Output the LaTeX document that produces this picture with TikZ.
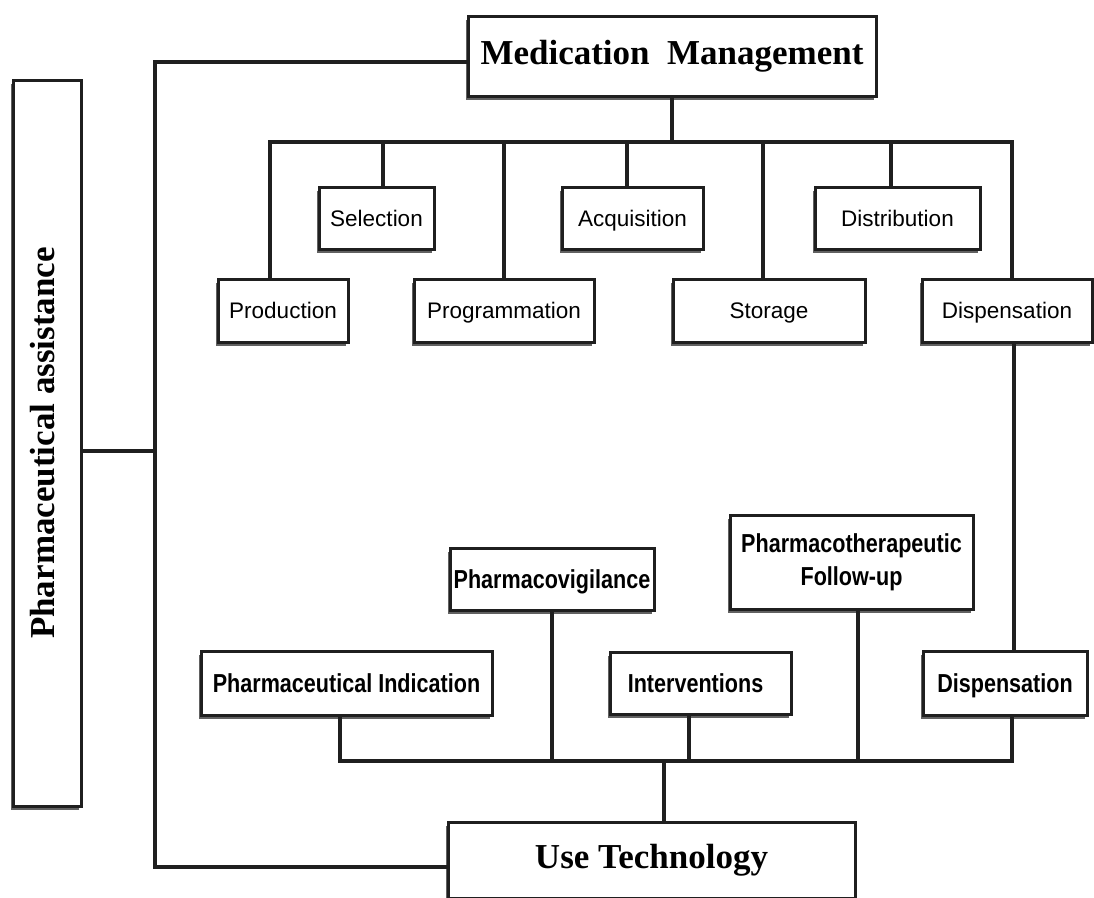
\documentclass[tikz,border=0pt]{standalone}
\usepackage{fontspec}
\setmainfont{Liberation Serif}
\newfontfamily\sansf{Liberation Sans}
\usetikzlibrary{shadows}
\newcommand{\nb}[1]{\scalebox{0.83}[1]{#1}}
\tikzset{
  box/.style={draw=black!88, line width=3pt, fill=white, inner sep=0pt,
    drop shadow={shadow xshift=-2.2pt, shadow yshift=-3.8pt, fill=black!62, opacity=1}},
  serifbox/.style={box, font=\bfseries\fontsize{35}{40}\selectfont},
  upbox/.style={box, font=\sansf\fontsize{22.5}{27}\selectfont, text height=16.1pt, text depth=0pt},
  lowbox/.style={box, font=\sansf\bfseries\fontsize{26}{33}\selectfont, align=center},
  lowone/.style={lowbox, text height=18.6pt, text depth=0pt},
  conn/.style={draw=black!88, line width=3.2pt}
}
\begin{document}
\begin{tikzpicture}[x=1pt,y=-1pt]
\useasboundingbox (0,0) rectangle (1094,897);

% main boxes
\node[serifbox, minimum width=408pt, minimum height=80pt] (mm) at (672,56) {Medication\ \ Management};
\node[serifbox, minimum width=68pt, minimum height=726pt] (pa) at (47,443) {\rotatebox{90}{Pharmaceutical assistance}\hspace*{9pt}};
\node[serifbox, minimum width=407pt, minimum height=76pt] (ut) at (651.5,860) {Use Technology};

% upper rows
\node[upbox, minimum width=115pt, minimum height=62pt] (sel) at (376.5,218) {Selection};
\node[upbox, minimum width=141pt, minimum height=62pt] (acq) at (632.5,218) {Acquisition};
\node[upbox, minimum width=165pt, minimum height=62pt] (dist) at (897.5,218) {Distribution};
\node[upbox, minimum width=130pt, minimum height=63pt] (prod) at (283,310.5) {Production};
\node[upbox, minimum width=180pt, minimum height=63pt] (prog) at (504,310.5) {Programmation};
\node[upbox, minimum width=192pt, minimum height=63pt] (stor) at (769,310.5) {Storage};
\node[upbox, minimum width=170pt, minimum height=63pt] (dispA) at (1007,310.5) {Dispensation};

% lower rows
\node[lowone, minimum width=204pt, minimum height=62pt] (pv) at (552,579) {\nb{Pharmacovigilance}};
\node[lowbox, minimum width=243pt, minimum height=94pt] (pfu) at (851.5,562) {\nb{Pharmacotherapeutic}\\\nb{Follow-up}};
\node[lowone, minimum width=291pt, minimum height=64pt] (pi) at (346.5,683) {\nb{Pharmaceutical Indication}};
\node[lowone, minimum width=181pt, minimum height=62pt] (int) at (700.5,683) {\nb{Interventions}\hspace*{10pt}};
\node[lowone, minimum width=164pt, minimum height=64pt] (dispB) at (1005,683) {\nb{Dispensation}};

% named junction points
\coordinate (busL) at (270,142);
\coordinate (busR) at (1012,142);
\coordinate (bbL) at (340,761);
\coordinate (bbR) at (1012,761);
\coordinate (cBL) at (155,867);
\coordinate (junc) at (155,451);

% top bus
\draw[conn] (mm.south) -- (mm.south |- busL);
\draw[conn] (busL |- prod.north) -- (busL) -- (busR) -- (busR |- dispA.north);
\draw[conn] ([xshift=6.5pt]sel.north) -- ([xshift=6.5pt]sel.north |- busL);
\draw[conn] (prog.north) -- (prog.north |- busL);
\draw[conn] ([xshift=-5.5pt]acq.north) -- ([xshift=-5.5pt]acq.north |- busL);
\draw[conn] ([xshift=-6pt]stor.north) -- ([xshift=-6pt]stor.north |- busL);
\draw[conn] ([xshift=-6.5pt]dist.north) -- ([xshift=-6.5pt]dist.north |- busL);

% dispensation link
\draw[conn] ([xshift=7pt]dispA.south) -- ([xshift=7pt]dispA.south |- dispB.north);

% bottom bus
\draw[conn] (bbL |- pi.south) -- (bbL) -- (bbR) -- (bbR |- dispB.south);
\draw[conn] (pv.south) -- (pv.south |- bbL);
\draw[conn] ([xshift=-11.5pt]int.south) -- ([xshift=-11.5pt]int.south |- bbL);
\draw[conn] ([xshift=6.5pt]pfu.south) -- ([xshift=6.5pt]pfu.south |- bbL);
\draw[conn] ([xshift=12.5pt]ut.north) -- ([xshift=12.5pt]ut.north |- bbL);

% outer frame lines
\draw[conn] ([yshift=-6pt]mm.west) -| (cBL) -- (cBL -| ut.west);
\draw[conn] (junc -| pa.east) -- (junc);
\end{tikzpicture}
\end{document}
